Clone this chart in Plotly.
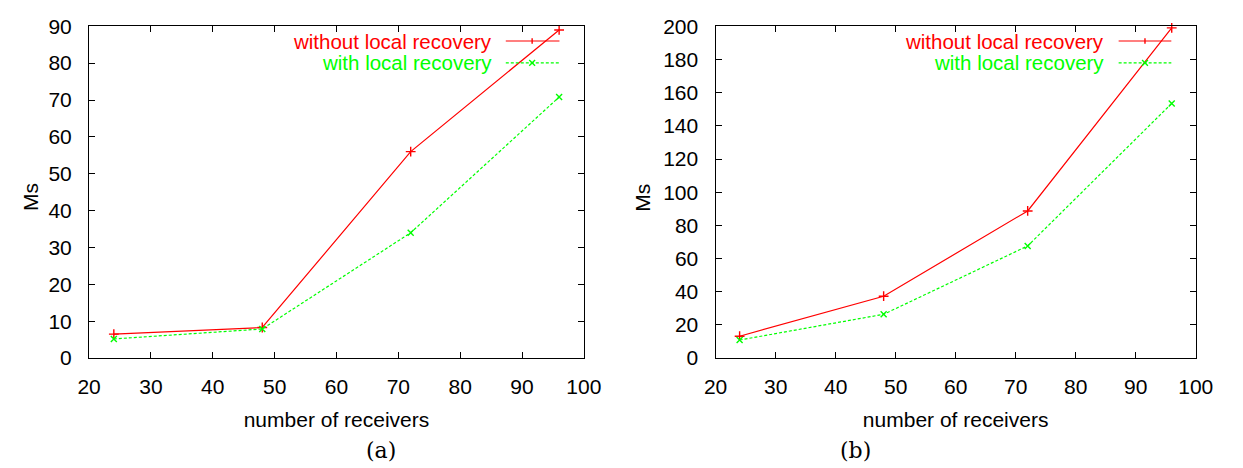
import plotly.graph_objects as go
from plotly.subplots import make_subplots

# number of receivers
receivers = [24, 48, 72, 96]

# panel (a)
a_without = [6.5, 8.3, 56.0, 89.0]
a_with = [5.2, 7.9, 34.0, 70.8]

# panel (b)
b_without = [13.2, 37.3, 88.7, 199.0]
b_with = [10.9, 26.4, 67.6, 153.5]

x_ticks = [20, 30, 40, 50, 60, 70, 80, 90, 100]
a_y_ticks = list(range(0, 91, 10))
b_y_ticks = list(range(0, 201, 20))

series_names = ["without local recovery", "with local recovery"]
RED = "#ff0000"
GREEN = "#00ff00"
FONT = "Liberation Sans, Arial, sans-serif"
FS = 21
KEY_FS = 20.5

W, H = 1243, 468
fig = make_subplots(rows=1, cols=2)

panels = [
    (1, a_without, a_with, a_y_ticks, [0, 90]),
    (2, b_without, b_with, b_y_ticks, [0, 200]),
]

for col, yw, yv, yt, yr in panels:
    fig.add_trace(go.Scatter(
        x=receivers, y=yw, mode="lines+markers", name=series_names[0],
        line=dict(color=RED, width=1.2),
        marker=dict(symbol="cross-thin", size=7, line=dict(color=RED, width=1.4)),
        showlegend=False, cliponaxis=False), row=1, col=col)
    fig.add_trace(go.Scatter(
        x=receivers, y=yv, mode="lines+markers", name=series_names[1],
        line=dict(color=GREEN, width=1.2, dash="3px,2px"),
        marker=dict(symbol="x-thin", size=6, line=dict(color=GREEN, width=1.4)),
        showlegend=False, cliponaxis=False), row=1, col=col)
    axis_common = dict(
        showgrid=False, zeroline=False, showline=True, linecolor="black",
        linewidth=1.3, mirror="ticks", ticks="inside", ticklen=6,
        tickcolor="black", tickwidth=1.3,
        tickfont=dict(family=FONT, size=FS, color="black"),
    )
    fig.update_xaxes(range=[20, 100], tickvals=x_ticks, ticklabelstandoff=10,
                     title=dict(text="number of receivers",
                                font=dict(family=FONT, size=FS, color="black"),
                                standoff=14),
                     **axis_common, row=1, col=col)
    fig.update_yaxes(range=yr, tickvals=yt, ticklabelstandoff=12,
                     **axis_common, row=1, col=col)

# plot area placement (paper fractions)
fig.update_layout(
    xaxis=dict(domain=[79 / W, 586 / W]),
    xaxis2=dict(domain=[721 / W, 1213 / W]),
    yaxis=dict(domain=[1 - 364 / H, 1 - 15 / H]),
    yaxis2=dict(domain=[1 - 364 / H, 1 - 15 / H]),
)

shapes = []
annotations = []

# vertical axis titles
for cx in [19 / W, 646 / W]:
    annotations.append(dict(
        text="Ms", x=cx, y=1 - 195 / H, xref="paper", yref="paper",
        xanchor="center", yanchor="middle", textangle=-90, showarrow=False,
        font=dict(family=FONT, size=FS, color="black")))

# in-plot key: text right-aligned, sample line with marker to its right
keys = [
    (493 / W, 506 / W, 561 / W, 533 / W),
    (1120 / W, 1134 / W, 1188 / W, 1161 / W),
]
rows_y = [1 - 30.5 / H, 1 - 53.5 / H]
for text_x, l0, l1, mx in keys:
    for i, (name, color) in enumerate(zip(series_names, [RED, GREEN])):
        y = rows_y[i]
        annotations.append(dict(
            text=name, x=text_x, y=y, xref="paper", yref="paper",
            xanchor="right", yanchor="middle", showarrow=False, borderpad=0,
            font=dict(family=FONT, size=KEY_FS, color=color)))
        shapes.append(dict(
            type="line", xref="paper", yref="paper", x0=l0, x1=l1, y0=y, y1=y,
            line=dict(color=color, width=1.2, dash="solid" if i == 0 else "3px,2px")))
        dx, dy = 3 / W, 3 / H
        if i == 0:
            shapes.append(dict(type="line", xref="paper", yref="paper",
                               x0=mx, x1=mx, y0=y - dy, y1=y + dy,
                               line=dict(color=color, width=1.4)))
        else:
            shapes.append(dict(type="line", xref="paper", yref="paper",
                               x0=mx - dx, x1=mx + dx, y0=y - dy, y1=y + dy,
                               line=dict(color=color, width=1.4)))
            shapes.append(dict(type="line", xref="paper", yref="paper",
                               x0=mx - dx, x1=mx + dx, y0=y + dy, y1=y - dy,
                               line=dict(color=color, width=1.4)))

# panel captions
for label, cx in [("(a)", 378 / W), ("(b)", 864 / W)]:
    annotations.append(dict(
        text=label, x=cx, y=1 - 461 / H, xref="paper", yref="paper",
        xanchor="center", yanchor="middle", showarrow=False,
        font=dict(family="DejaVu Serif, Liberation Serif, serif", size=22,
                  color="black")))

fig.update_layout(
    width=W, height=H,
    margin=dict(l=0, r=0, t=0, b=0),
    paper_bgcolor="white", plot_bgcolor="white",
    shapes=shapes, annotations=annotations,
    showlegend=False,
)

fig.write_html("out.html")
